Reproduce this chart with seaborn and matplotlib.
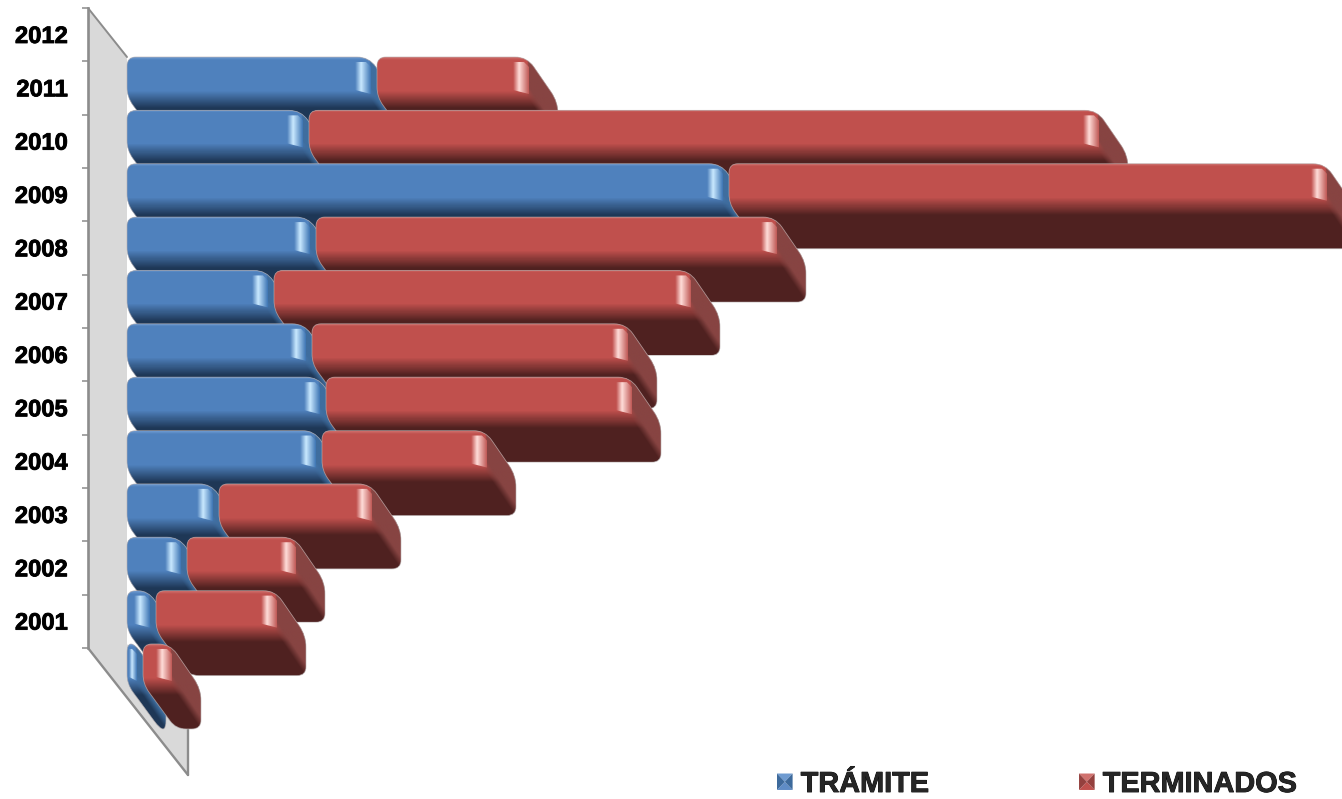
import numpy as np
import pandas as pd
import matplotlib
matplotlib.use("Agg")
import matplotlib.pyplot as plt
import seaborn as sns
import matplotlib.patheffects as pe
from matplotlib.path import Path
from matplotlib.patches import PathPatch, Polygon, Patch
from matplotlib.legend_handler import HandlerBase
from matplotlib.colors import to_rgb
from matplotlib import transforms as mtrans

# ---------- data ----------
years = ["2012", "2011", "2010", "2009", "2008", "2007", "2006", "2005", "2004", "2003", "2002", "2001"]
tramite = [250, 182, 602, 189, 147, 185, 199, 195, 92, 60, 29, 16]
terminados = [150, 788, 596, 459, 415, 314, 304, 163, 151, 107, 119, 27]
series_names = ["TRÁMITE", "TERMINADOS"]

# ---------- style ----------
W, H = 1342, 799
STEP = 53.36
C0 = 83.68
DX, DY = 31, 45
DEPTH = 85
PAL = {
    "blue": dict(main="#4F81BD", dark="#1E3756", side="#3F6E9F", top="#6F9BD1", hi="#C9E9FF", hi_end="#3F76B5"),
    "red": dict(main="#C0504D", dark="#4F2120", side="#874442", top="#CF706D", hi="#FFDDD9", hi_end="#C05A57"),
}
sns.set_theme(style="white")
plt.rcParams["font.family"] = ["Liberation Sans", "DejaVu Sans"]
bold_fx = [pe.withStroke(linewidth=0.6, foreground="black")]

fig = plt.figure(figsize=(W / 100, H / 100), dpi=100)
ax = fig.add_axes([88 / W, 0, 1 - 88 / W, 1])
fig.patch.set_facecolor("white")
ax.patch.set_alpha(0)
px = mtrans.Affine2D().scale(1 / W, -1 / H).translate(0, 1) + fig.transFigure


def ydata(p):
    return (p - C0) / STEP


df = pd.DataFrame({"year": years, "tramite": tramite, "terminados": terminados})
sns.barplot(data=df, y="year", x="tramite", order=years, color=PAL["blue"]["main"],
            saturation=1, width=1, ax=ax, linewidth=0)
sns.barplot(data=df, y="year", x="terminados", order=years, color=PAL["red"]["main"],
            saturation=1, width=1, ax=ax, linewidth=0, left=df["tramite"].values)


def rounded(points, radii):
    verts, codes = [], []
    n = len(points)
    P = np.array(points, float)
    for k in range(n):
        p, a, b = P[k], P[k - 1], P[(k + 1) % n]
        r = radii[k]
        va, vb = a - p, b - p
        s = p + va / np.hypot(*va) * min(r, np.hypot(*va) / 2)
        e = p + vb / np.hypot(*vb) * min(r, np.hypot(*vb) / 2)
        verts.append(s); codes.append(Path.MOVETO if k == 0 else Path.LINETO)
        verts += [p, e]; codes += [Path.CURVE3, Path.CURVE3]
    verts.append(verts[0]); codes.append(Path.CLOSEPOLY)
    return Path(np.array(verts), codes)


def v_gradient(pal):
    stops = [(0, pal["top"]), (3, pal["main"]), (34, pal["main"]), (51, pal["dark"]), (DEPTH, pal["dark"])]
    ys = np.arange(DEPTH * 2) / 2
    rgb = np.array([to_rgb(c) for _, c in stops])
    pos = [s for s, _ in stops]
    col = np.stack([np.interp(ys, pos, rgb[:, c]) for c in range(3)], axis=-1)[:, None, :]
    return np.repeat(col, 2, axis=1)


def draw_bar(patch, xe, pal, z):
    x0 = patch.get_x()
    top = patch.get_y()
    Y = lambda d: top + d / STEP
    pts = [(x0, 0), (xe, 0), (xe + DX, DY), (xe + DX, DEPTH), (x0 + 33, DEPTH), (x0, 40)]
    p = rounded(pts, [9, 12, 12, 9, 10, 10])
    sil = Path(np.column_stack([p.vertices[:, 0], top + p.vertices[:, 1] / STEP]), p.codes)
    clip = PathPatch(sil, transform=ax.transData, facecolor="none", edgecolor="#B8B0B0",
                     lw=0.6, alpha=0.7, zorder=z + 0.6)
    ax.add_patch(clip)
    patch.set_zorder(z)
    patch.set_clip_path(clip)
    # front + bottom shading
    im = ax.imshow(v_gradient(pal), extent=(x0, xe + DX + 1, Y(DEPTH), Y(0)), aspect="auto",
                   origin="upper", zorder=z + 0.1, interpolation="nearest")
    im.set_clip_path(clip)
    # right face
    xs = np.arange(0, DX + 1.5, 0.5)
    ys = np.arange(0, DEPTH + 0.5, 0.5)
    gx, gy = np.meshgrid(xs, ys)
    s = gy - gx * (DY / DX)
    a = np.clip((40 - s) / 12, 0, 1) * np.clip(gx / 1.5, 0, 1)
    rgba = np.zeros(gx.shape + (4,))
    rgba[..., :3] = to_rgb(pal["side"])
    rgba[..., 3] = a
    im2 = ax.imshow(rgba, extent=(xe, xe + DX + 1, Y(DEPTH), Y(0)), aspect="auto",
                    origin="upper", zorder=z + 0.2, interpolation="bilinear")
    im2.set_clip_path(clip)
    # highlight
    hl = max(x0 + 2, xe - 14)
    stops = [0, 0.38, 1]
    cols = np.array([to_rgb(pal["main"]), to_rgb(pal["hi"]), to_rgb(pal["hi_end"])])
    t = np.linspace(0, 1, 40)
    grad = np.stack([np.interp(t, stops, cols[:, c]) for c in range(3)], axis=-1)[None, :, :]
    im3 = ax.imshow(grad, extent=(hl, xe + 2, Y(40), Y(4)), aspect="auto", origin="upper",
                    zorder=z + 0.3, interpolation="bilinear")
    hp = Polygon([(hl, Y(5)), (xe - 3, Y(5)), (xe + 2, Y(10)), (xe + 2, Y(37)), (hl, Y(33))],
                 transform=ax.transData, facecolor="none", edgecolor="none")
    ax.add_patch(hp)
    im3.set_clip_path(hp)


blue_bars, red_bars = ax.containers[0], ax.containers[1]
for i, (bb, rb) in enumerate(zip(blue_bars, red_bars)):
    z = 10 + i * 2
    draw_bar(bb, bb.get_x() + bb.get_width() - 8, PAL["blue"], z)
    draw_bar(rb, rb.get_x() + rb.get_width(), PAL["red"], z + 1)

# ---------- axes ----------
ax.set_xlim((88 - 127), (W - 127))
ax.set_ylim(ydata(H), ydata(0))
ax.set_xlabel(""); ax.set_ylabel("")
ax.set_xticks([])
for sp in ["top", "right", "bottom"]:
    ax.spines[sp].set_visible(False)
ax.spines["left"].set_color("#8C8C8C")
ax.spines["left"].set_linewidth(1.9)
ax.spines["left"].set_bounds(ydata(8), ydata(648))
edges = [ydata(8 + 53.33 * k) for k in range(13)]
ax.set_yticks(edges, [""] * 13)
ax.tick_params(axis="y", which="major", length=4.3, width=1.1, color="#8C8C8C", left=True)
ax.set_yticks([ydata(34.0 + 53.33 * k) for k in range(12)], minor=True)
ax.set_yticklabels(years, minor=True, fontsize=17.1, fontweight="bold", color="black",
                   path_effects=bold_fx)
ax.tick_params(axis="y", which="minor", length=0, pad=14.5)

# ---------- wall ----------
fig.add_artist(Polygon([(88, 8), (127, 57), (127, 644), (188, 720), (188, 775), (88, 648)],
                       transform=px, facecolor="#D9D9D9", edgecolor="none", zorder=-1))
ax.set_zorder(2)
for seg, lw in [([(88, 8), (127, 57)], 1.4), ([(88, 648), (188, 775)], 1.7), ([(188, 728), (188, 775)], 1.7)]:
    xy = np.array(seg)
    ax.plot(xy[:, 0] - 127, ydata(xy[:, 1]), color="#8C8C8C", lw=lw, zorder=2, solid_capstyle="round")


# ---------- legend ----------
class Pyramid(HandlerBase):
    def __init__(self, cols):
        super().__init__()
        self.cols = cols

    def create_artists(self, legend, orig, xd, yd, w, h, fs, trans):
        x0, y0 = -xd, -yd
        c = (x0 + w / 2, y0 + h / 2)
        a, b, cc, d = (x0, y0), (x0 + w, y0), (x0 + w, y0 + h), (x0, y0 + h)
        faces = [(d, cc, self.cols[0]), (a, b, self.cols[1]), (a, d, self.cols[2]), (b, cc, self.cols[2])]
        return [Polygon([p, q, c], facecolor=col, edgecolor="none", transform=trans) for p, q, col in faces]


h1 = Patch(facecolor=PAL["blue"]["main"])
h2 = Patch(facecolor=PAL["red"]["main"])
leg = ax.legend([h1, h2], series_names, ncol=2, frameon=False, loc="lower left",
                bbox_to_anchor=(777 / W, 1 - 798 / H), bbox_transform=fig.transFigure,
                borderpad=0, borderaxespad=0, handlelength=0.54, handleheight=0.5,
                handletextpad=0.28, columnspacing=5.2, labelspacing=0,
                prop={"size": 20.8, "weight": "bold", "family": ["Liberation Sans"]},
                handler_map={h1: Pyramid(["#6F9BD1", "#5F8CC6", "#3D6A9C"]),
                             h2: Pyramid(["#D0716E", "#C0504D", "#94403E"])})
for t in leg.get_texts():
    t.set_path_effects(bold_fx)

fig.savefig("out.png", dpi=100)
